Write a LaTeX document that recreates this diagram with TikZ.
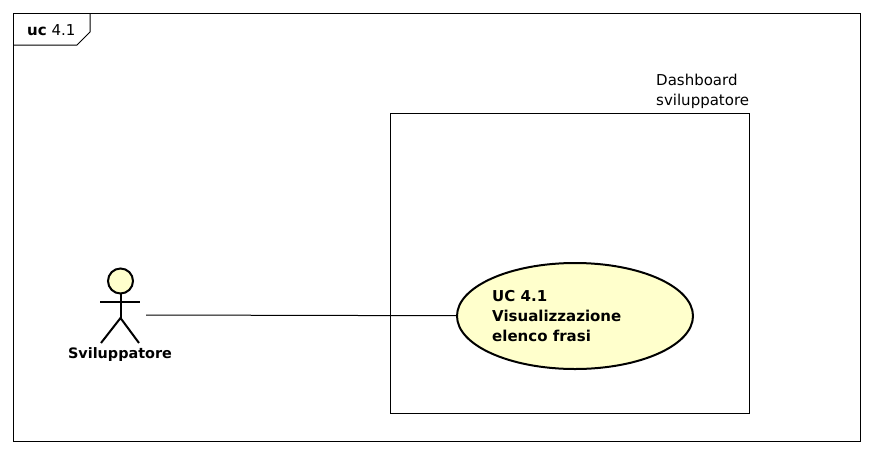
\documentclass[tikz,border=0pt]{standalone}
\usepackage{fontspec}
\setmainfont{DejaVu Sans}
\usepackage{tikz}
\usetikzlibrary{shapes.geometric}

\definecolor{ucfill}{RGB}{255,255,204}

\tikzset{
	frameline/.style={line width=1pt, black},
	actorline/.style={line width=2pt, black},
	usecase/.style={ellipse, draw, line width=2pt, fill=ucfill, minimum width=236pt, minimum height=106pt, inner sep=0pt},
	plaintext/.style={inner sep=0pt, align=left, font=\fontsize{15}{19.4}\selectfont},
	boldtext/.style={plaintext, font=\fontsize{15}{19.6}\selectfont\bfseries},
	actortext/.style={plaintext, font=\fontsize{14.4}{19.6}\selectfont\bfseries}
}

\begin{document}
\begin{tikzpicture}[x=1pt, y=-1pt]
	\useasboundingbox (0, 0) rectangle (873, 453);
	
	\draw[frameline] (13.5, 13.5) rectangle (860.5, 441);
	\draw[frameline] (13.5, 45) -- (77, 45) -- (90, 32) -- (90, 13.5);
	\node[plaintext, anchor=west] (frametitle) at (27, 30) {\textbf{uc} 4.1};
	
	\draw[frameline] (390.5, 113.5) rectangle (749.5, 413);
	\node[plaintext, anchor=south west] (systemtitle) at (656, 108.5) {Dashboard\\sviluppatore};
	
	\node[usecase] (ucfrasi) at (575, 316) {};
	\node[boldtext, anchor=west] (uctitle) at (492, 316) {UC 4.1\\Visualizzazione\\elenco frasi};
	
	\draw[actorline, fill=ucfill] (120.5, 281) circle (12.5);
	\draw[actorline] (120.5, 293.5) -- (120.5, 318);
	\draw[actorline] (100, 302) -- (140, 302);
	\draw[actorline] (101, 343) -- (120.5, 318) -- (139, 343);
	\node[actortext] (actorname) at (120, 355) {Sviluppatore};
	
	\coordinate (actorend) at (146, 315);
	\draw[frameline] (actorend) -- (ucfrasi);
\end{tikzpicture}
\end{document}
